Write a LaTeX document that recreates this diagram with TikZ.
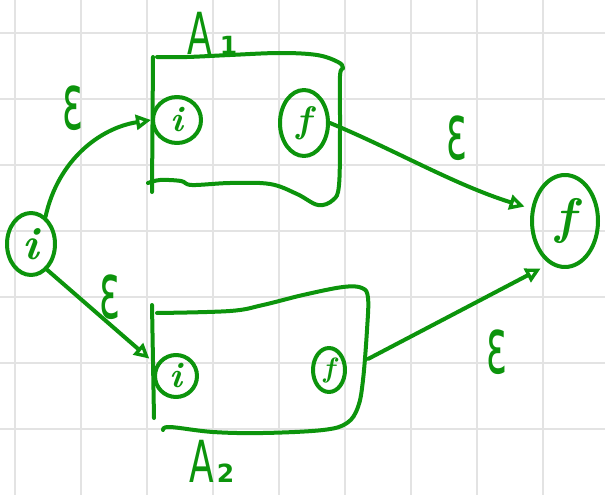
\documentclass[tikz,border=0pt]{standalone}
\usepackage{fontspec}
\usepackage{graphicx}
\usetikzlibrary{arrows.meta,shapes.geometric}
\newfontfamily\gk{DejaVu Sans}
\definecolor{ink}{RGB}{12,148,12}
\newcommand\heps{\scalebox{0.75}[1.5]{\fontsize{52}{52}\selectfont\gk ε}}
\newcommand\bigA{\scalebox{0.62}[1]{\fontsize{58}{58}\selectfont\gk A}}
\begin{document}
\begin{tikzpicture}[x=1pt,y=-1pt,
  pen/.style={draw=ink,line width=4pt,line cap=round,line join=round},
  state/.style={ellipse,pen,inner sep=0pt,text=ink,font=\bfseries\itshape},
  arr/.style={pen,-{Triangle[open,length=15pt,width=15pt,line width=3.4pt]}},
  eps/.style={text=ink,inner sep=0pt},
  gridl/.style={draw=black!11,line width=1.6pt}]
\fill[white] (0,0) rectangle (605,495);
\useasboundingbox (0,0) rectangle (605,495);
\foreach \x in {15,81,147,213,279,345,411,477,543} \draw[gridl] (\x,0) -- (\x,495);
\foreach \y in {33,99,165,231,297,363,429} \draw[gridl] (0,\y) -- (605,\y);
% boxes
\draw[pen] plot[smooth, tension=0.6] coordinates {(157,57) (187,57) (230,55) (280,53) (317,55) (338,62) (343,68) (340,76) (340,130) (339,185) (333,200) (318,205) (297,194) (270,184) (230,183) (192,185) (181,181) (160,180) (148,183)};
\draw[pen] (153,57) -- (152,192);
\draw[pen] plot[smooth, tension=0.6] coordinates {(157,313) (230,311) (263,305) (303,295) (343,287) (362,288) (368,298) (367,330) (363,380) (358,407) (347,423) (323,430) (263,433) (213,432) (170,427) (163,430)};
\draw[pen] (152,305) -- (154,418);
% states
\node[state,minimum width=48pt,minimum height=62pt] (s) at (31,244) {\fontsize{46}{46}\selectfont i};
\node[state,minimum width=48pt,minimum height=46pt] (a1i) at (177,120) {\fontsize{36}{36}\selectfont i};
\node[state,minimum width=48pt,minimum height=66pt] (a1f) at (304,123) {\fontsize{37}{37}\selectfont f};
\node[state,minimum width=42pt,minimum height=42pt] (a2i) at (176,376) {\fontsize{36}{36}\selectfont i};
\node[state,minimum width=32pt,minimum height=44pt] (a2f) at (329,370) {\fontsize{28}{28}\selectfont f};
\node[state,minimum width=66pt,minimum height=92pt] (fin) at (565,221) {\fontsize{50}{50}\selectfont f};
% edges
\draw[arr] (s.62) .. controls (58,160) and (100,128) .. (a1i.west);
\draw[arr,shorten >=9pt] (s.-58) -- (a2i.150);
\draw[arr,shorten >=7pt] (a1f.east) .. controls (395,150) and (455,185) .. (fin.160);
\draw[arr,shorten <=24pt,shorten >=10pt] (a2f.east) -- (fin.250);
% labels
\node[eps] (e1) at (73,108) {\heps};
\node[eps] (e2) at (110,297) {\heps};
\node[eps] (e3) at (457,138) {\heps};
\node[eps] (e4) at (497,352) {\heps};
\node[eps,anchor=base west] (l1) at (187,55) {\bigA\hspace{8pt}\fontsize{25}{25}\selectfont\gk\bfseries 1};
\node[eps,anchor=base west] (l2) at (189,482) {\bigA\hspace{3pt}\fontsize{25}{25}\selectfont\gk\bfseries 2};
\end{tikzpicture}
\end{document}
